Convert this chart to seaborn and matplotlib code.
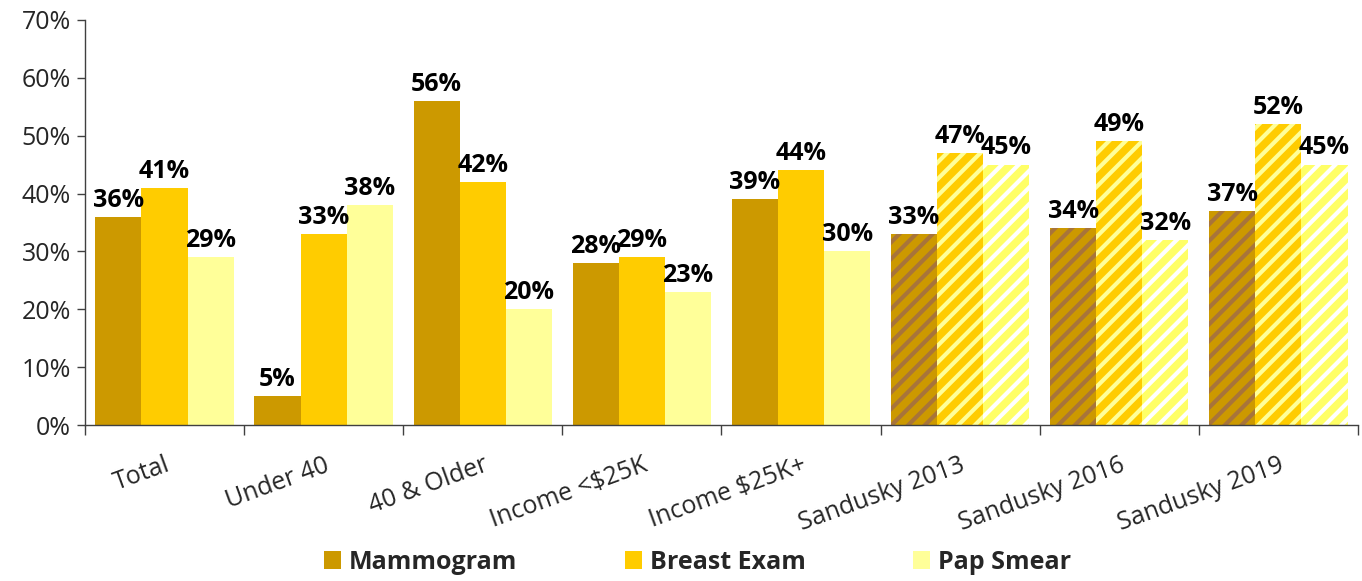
import matplotlib
matplotlib.use("Agg")
import matplotlib.pyplot as plt
import seaborn as sns
import pandas as pd
import numpy as np
from matplotlib.ticker import PercentFormatter, FixedLocator
from matplotlib.patches import Patch

categories = ["Total", "Under 40", "40 & Older", "Income <$25K", "Income $25K+",
              "Sandusky 2013", "Sandusky 2016", "Sandusky 2019"]
mammogram = [36, 5, 56, 28, 39, 33, 34, 37]
breast_exam = [41, 33, 42, 29, 44, 47, 49, 52]
pap_smear = [29, 38, 20, 23, 30, 45, 32, 45]
series_names = ["Mammogram", "Breast Exam", "Pap Smear"]
hatched_categories = ["Sandusky 2013", "Sandusky 2016", "Sandusky 2019"]

colors = ["#CC9900", "#FFCC00", "#FFFF99"]
hatch_face = ["#CC9900", "#FFCC00", "#FFFF66"]
hatch_line = ["#A8743A", "#FFFF99", "#FFFFFF"]

rows = []
for name, vals in zip(series_names, [mammogram, breast_exam, pap_smear]):
    for c, v in zip(categories, vals):
        rows.append({"category": c, "test": name, "value": v / 100})
df = pd.DataFrame(rows)

sns.set_style("white")
plt.rcParams["font.family"] = ["Open Sans", "DejaVu Sans"]
plt.rcParams["hatch.linewidth"] = 3.0

fig = plt.figure(figsize=(13.62, 5.81), dpi=100)
ax = fig.add_axes([0.0624, 0.2685, 0.9346, 0.6971])

sns.barplot(data=df, x="category", y="value", hue="test", order=categories,
            hue_order=series_names, palette=colors, width=0.87, gap=0,
            saturation=1, errorbar=None, ax=ax, legend=False)

for si, cont in enumerate(ax.containers):
    for ci, patch in enumerate(cont.patches):
        patch.set_linewidth(0)
        if categories[ci] in hatched_categories:
            patch.set_facecolor(hatch_face[si])
            patch.set_hatch("//")
            if hasattr(patch, "set_hatchcolor"):
                patch.set_hatchcolor(hatch_line[si])
            patch.set_edgecolor(hatch_line[si])
    ax.bar_label(cont, labels=[f"{v*100:.0f}%" for v in cont.datavalues],
                 padding=3, fontsize=18, fontweight="bold", color="black")

ax.set_ylim(0, 0.7)
ax.set_xlim(-0.5, len(categories) - 0.5)
ax.yaxis.set_major_formatter(PercentFormatter(1.0, decimals=0))
ax.set_yticks(np.arange(0, 0.71, 0.1))
ax.tick_params(axis="y", labelsize=18, length=6, width=1, color="#404040", direction="out", left=True, pad=4)
ax.set_xticks(range(len(categories)))
ax.set_xticklabels(categories, rotation=20, ha="right", rotation_mode="anchor", fontsize=18)
ax.tick_params(axis="x", which="major", length=0, pad=20)
ax.xaxis.set_minor_locator(FixedLocator(np.arange(-0.5, len(categories), 1)))
ax.tick_params(axis="x", which="minor", length=7, width=1, color="#404040", direction="out", bottom=True)
ax.set_xlabel("")
ax.set_ylabel("")
for s in ["top", "right"]:
    ax.spines[s].set_visible(False)
for s in ["left", "bottom"]:
    ax.spines[s].set_color("#404040")
    ax.spines[s].set_linewidth(1)

handles = [Patch(facecolor=c, edgecolor="none") for c in colors]
fig.legend(handles, series_names, loc="center", bbox_to_anchor=(0.512, 0.032), ncol=3,
           frameon=False, prop={"size": 18, "weight": "bold"}, columnspacing=4.3,
           handlelength=0.7, handleheight=0.7, handletextpad=0.3)

fig.savefig("out.png", dpi=100)
